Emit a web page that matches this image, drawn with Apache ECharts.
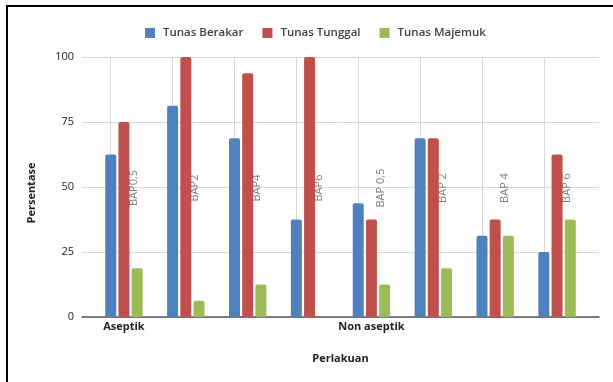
<!DOCTYPE html>
<html>
<head>
<meta charset="utf-8">
<script src="https://cdn.jsdelivr.net/npm/echarts@6/dist/echarts.min.js"></script>
<style>
  html, body { margin: 0; padding: 0; background: #fff; }
  #wrap { position: relative; width: 613px; height: 382px; overflow: hidden; }
  #chart { position: absolute; left: 0; top: 0; width: 613px; height: 382px; }
  #frame { position: absolute; left: 6px; top: 5px; width: 700px; height: 500px;
           border-left: 2px solid #000; border-top: 2px solid #000; pointer-events: none; }
</style>
</head>
<body>
<div id="wrap">
  <div id="chart"></div>
  <div id="frame"></div>
</div>
<script>
// Treatment doses (inner axis level) and their group (outer axis level)
const doses = ['BAP0,5', 'BAP2', 'BAP4', 'BAP6', 'BAP 0,5', 'BAP 2', 'BAP 4', 'BAP 6'];
const groups = ['Aseptik', '', '', '', 'Non aseptik', '', '', ''];

// Percentage of explants per response
const tunasBerakar = [62.5, 81.25, 68.75, 37.5, 43.75, 68.75, 31.25, 25];
const tunasTunggal = [75, 100, 93.75, 100, 37.5, 68.75, 37.5, 62.5];
const tunasMajemuk = [18.75, 6.25, 12.5, 0, 12.5, 18.75, 31.25, 37.5];

const yTicks = [0, 25, 50, 75, 100];

const FONT = '"Open Sans", sans-serif';
const colors = ['#4F81BD', '#C0504D', '#9BBB59'];

const chart = echarts.init(document.getElementById('chart'), null, { renderer: 'canvas' });

function barSeries(name, data, color, extra) {
  return Object.assign({
    name: name,
    type: 'bar',
    xAxisIndex: 1,
    yAxisIndex: 1,
    data: data,
    barWidth: 11,
    barGap: '20%',
    z: 2,
    itemStyle: { color: color, borderRadius: [2, 2, 0, 0] }
  }, extra || {});
}

chart.setOption({
  animation: false,
  textStyle: { fontFamily: FONT },
  legend: {
    top: 22,
    left: 140,
    itemWidth: 10,
    itemHeight: 10,
    itemGap: 19,
    icon: 'rect',
    textStyle: { fontFamily: FONT, fontSize: 11.5, color: '#404040', fontWeight: 600, padding: [0, 0, 0, 3] },
    data: ['Tunas Berakar', 'Tunas Tunggal', 'Tunas Majemuk']
  },
  grid: [
    { left: 82, right: 14, top: 57, bottom: 65 },
    { left: 93, right: 25, top: 57, bottom: 65 }
  ],
  xAxis: [
    {
      gridIndex: 0, type: 'value', min: 0, max: 1, position: 'bottom',
      axisLine: { show: true, lineStyle: { color: '#555', width: 1.5 } },
      axisTick: { show: false }, axisLabel: { show: false }, splitLine: { show: false }
    },
    {
      gridIndex: 1, type: 'category', data: doses, position: 'bottom',
      axisLine: { show: false }, axisTick: { show: false }, splitLine: { show: false },
      axisLabel: {
        rotate: 90, interval: 0, margin: -129,
        align: 'center', verticalAlign: 'top',
        padding: [4, 0, 0, 0],
        fontFamily: FONT, fontSize: 11, color: '#808080'
      }
    },
    {
      gridIndex: 1, type: 'category', data: groups, position: 'bottom', offset: 0,
      axisLine: { show: false }, axisTick: { show: false }, splitLine: { show: false },
      axisLabel: { interval: 0, margin: 4, fontFamily: FONT, fontSize: 11, fontWeight: 'bold', color: '#222' },
      name: 'Perlakuan', nameLocation: 'middle', nameGap: 36,
      nameTextStyle: { fontFamily: FONT, fontSize: 11, fontWeight: 'bold', color: '#222' }
    }
  ],
  yAxis: [
    {
      gridIndex: 0, type: 'value', min: yTicks[0], max: yTicks[yTicks.length - 1], interval: 25,
      axisLine: { show: false }, axisTick: { show: false },
      axisLabel: { margin: 8, fontFamily: FONT, fontSize: 11, color: '#222' },
      splitLine: { show: true, lineStyle: { color: '#d9d9d9', width: 1 } },
      name: 'Persentase', nameLocation: 'middle', nameGap: 45,
      nameTextStyle: { fontFamily: FONT, fontSize: 11, fontWeight: 'bold', color: '#222', padding: [0, 12, 0, 0] }
    },
    {
      gridIndex: 1, type: 'value', min: yTicks[0], max: yTicks[yTicks.length - 1],
      show: false
    }
  ],
  series: [
    barSeries('Tunas Berakar', tunasBerakar, colors[0], {
      markLine: {
        silent: true, symbol: 'none', z: 1,
        label: { show: false },
        lineStyle: { color: '#d9d9d9', width: 1, type: 'solid' },
        data: doses.map((d, i) => ({ xAxis: i }))
      }
    }),
    barSeries('Tunas Tunggal', tunasTunggal, colors[1]),
    barSeries('Tunas Majemuk', tunasMajemuk, colors[2])
  ]
});
</script>
</body>
</html>
